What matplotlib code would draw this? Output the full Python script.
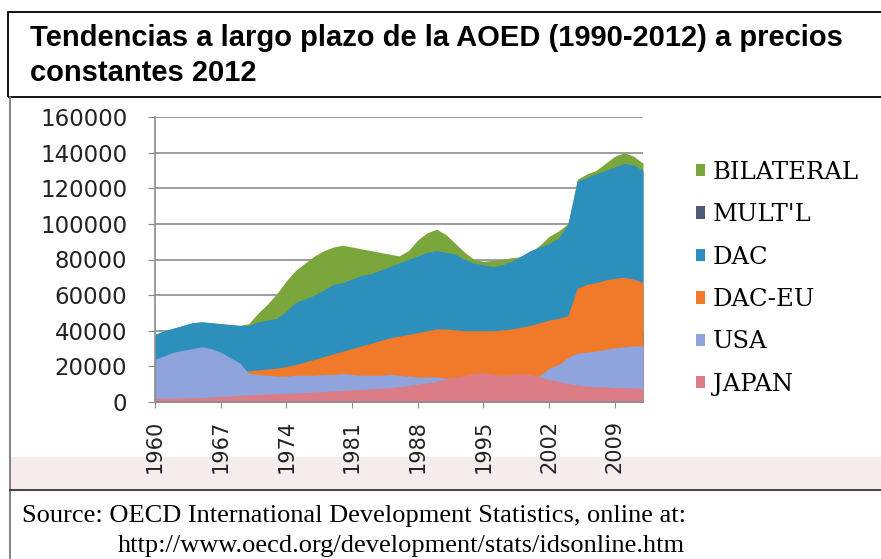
import matplotlib
matplotlib.use("Agg")
import matplotlib.pyplot as plt
from matplotlib.patches import Patch, Rectangle
from matplotlib.lines import Line2D

# years 1960-2012, values in USD millions
years = list(range(1960, 2013))

bilateral = [38000, 40000, 41500, 43000, 44500, 45000, 44500, 44000, 43500, 43000,
             44000, 50000, 55000, 61000, 68000, 74000, 78000, 82000, 85000, 87000,
             88000, 87000, 86000, 85000, 84000, 83000, 82000, 85000, 91000, 95000,
             97000, 94000, 89000, 84000, 80000, 79000, 79500, 80000, 81000, 81500,
             84000, 88000, 93000, 96000, 100000, 125000, 128000, 130000, 134000, 138000,
             140000, 138000, 134000]

multl = [5000, 5500, 6000, 6500, 7000, 7500, 8000, 8500, 9000, 9500,
         10000, 11000, 12000, 14000, 16000, 18000, 19000, 20000, 21000, 22000,
         23000, 24000, 24500, 25000, 25500, 26000, 26500, 27000, 27500, 28000,
         28500, 29000, 29500, 30000, 30000, 30000, 30500, 31000, 31000, 31500,
         32000, 32500, 33000, 33500, 34000, 35000, 36000, 37000, 38000, 39000,
         40000, 40000, 40000]

dac = [38000, 40000, 41500, 43000, 44500, 45000, 44500, 44000, 43500, 43000,
       43000, 45000, 46000, 47000, 51000, 56000, 58000, 60000, 63000, 66000,
       67000, 69000, 71000, 72000, 74000, 76000, 78000, 80000, 82000, 84000,
       85000, 84000, 83000, 80000, 78000, 77000, 76000, 77000, 79000, 82000,
       85000, 87000, 89000, 92000, 100000, 124000, 126000, 128000, 130000, 132000,
       134000, 133000, 130000]

dac_eu = [12000, 12500, 13000, 13500, 14000, 14500, 15000, 15500, 16000, 17000,
          17500, 18000, 18500, 19000, 20000, 21000, 22500, 24000, 25500, 27000,
          28500, 30000, 31500, 33000, 34500, 36000, 37000, 38000, 39000, 40000,
          41000, 41000, 40500, 40000, 40000, 40000, 40000, 40500, 41000, 42000,
          43000, 44500, 46000, 47000, 48500, 64000, 66000, 67000, 68500, 69500,
          70000, 69000, 67000]

usa = [24000, 26000, 28000, 29000, 30000, 31000, 30000, 28000, 25000, 22000,
       16000, 15500, 15000, 14500, 14500, 15000, 15000, 15000, 15500, 15500,
       16000, 15500, 15000, 15000, 15000, 15500, 15000, 14500, 14000, 14000,
       14000, 13500, 13000, 12500, 12000, 11500, 11000, 10500, 11000, 12000,
       13000, 15000, 19000, 21000, 25000, 27500, 28000, 28500, 29500, 30500,
       31000, 31500, 31500]

japan = [2000, 2100, 2200, 2300, 2400, 2500, 2800, 3100, 3400, 3700,
         4000, 4200, 4400, 4600, 4800, 5000, 5300, 5600, 5900, 6200,
         6500, 6800, 7100, 7400, 7700, 8000, 8600, 9200, 10000, 10800,
         11500, 13000, 14000, 15000, 16000, 16500, 15500, 15000, 15500, 16000,
         15500, 14000, 12500, 11500, 10500, 9500, 9000, 8500, 8500, 8000,
         8000, 8000, 7500]

series = [
    ("BILATERAL", bilateral, "#7aa63c"),
    ("MULT'L", multl, "#4e5a78"),
    ("DAC", dac, "#2c8fbc"),
    ("DAC-EU", dac_eu, "#f07a2a"),
    ("USA", usa, "#8fa3dc"),
    ("JAPAN", japan, "#dc7c86"),
]

W, H = 881, 559
fig = plt.figure(figsize=(W / 100, H / 100), dpi=100)
fig.patch.set_facecolor("white")

# faint watermark band behind the year labels
fig.add_artist(Rectangle((10 / W, 1 - 490 / H), 1.0, 33 / H, transform=fig.transFigure,
                         fc="#f6ecec", ec="none", zorder=0))

ax = fig.add_axes([155 / W, 1 - 402 / H, (643 - 155) / W, (402 - 117) / H])
ax.patch.set_alpha(0)
for name, vals, col in series:
    ax.fill_between(years, 0, vals, color=col, lw=0, zorder=2)

ax.set_xlim(1960, 2012)
ax.set_ylim(0, 160000)
ax.set_yticks(range(0, 160001, 20000))
ax.set_yticklabels([str(v) for v in range(0, 160001, 20000)],
                   fontsize=16.5, family="DejaVu Sans", color="#222222")
ax.set_xticks(range(1960, 2013, 7))
ax.set_xticklabels([str(y) for y in range(1960, 2013, 7)], rotation=90,
                   fontsize=15, family="DejaVu Sans", color="#222222")
ax.tick_params(axis="y", length=5, color="#888888", pad=15)
ax.tick_params(axis="x", length=4, color="#888888", pad=9)
ax.grid(axis="y", color="#8c8c8c", lw=1.2, zorder=1)
ax.set_axisbelow(True)
for s in ["top", "right"]:
    ax.spines[s].set_visible(False)
for s in ["left", "bottom"]:
    ax.spines[s].set_color("#8c8c8c")
    ax.spines[s].set_linewidth(1.2)

handles = [Patch(facecolor=col, edgecolor="none") for _, _, col in series]
fig.legend(handles, [n for n, _, _ in series], loc="upper left",
           bbox_to_anchor=(686 / W, 1 - 151 / H), frameon=False,
           prop={"family": "DejaVu Serif", "size": 17.5},
           handlelength=0.4, handleheight=0.4, handletextpad=0.3,
           labelspacing=0.8, borderaxespad=0)

# title box and frame lines
fig.add_artist(Rectangle((8 / W, 1 - 97 / H), 1.0, 85 / H, transform=fig.transFigure,
                         fill=False, ec="black", lw=1.3))
fig.add_artist(Line2D([10 / W, 10 / W], [0, 1 - 97 / H], color="#777777", lw=1.3))
fig.add_artist(Line2D([10 / W, 1], [1 - 490 / H, 1 - 490 / H], color="#333333", lw=1.3))

fig.text(30 / W, 1 - 38 / H, "Tendencias a largo plazo de la AOED (1990-2012) a precios",
         fontsize=21, fontweight="bold", family="Liberation Sans", va="center")
fig.text(30 / W, 1 - 73 / H, "constantes 2012",
         fontsize=21, fontweight="bold", family="Liberation Sans", va="center")

fig.text(22 / W, 1 - 516 / H, "Source: OECD International Development Statistics, online at:",
         fontsize=19, family="Liberation Serif", va="center")
fig.text(118 / W, 1 - 546 / H, "http://www.oecd.org/development/stats/idsonline.htm",
         fontsize=19, family="Liberation Serif", va="center")

fig.savefig("out.png", dpi=100)
